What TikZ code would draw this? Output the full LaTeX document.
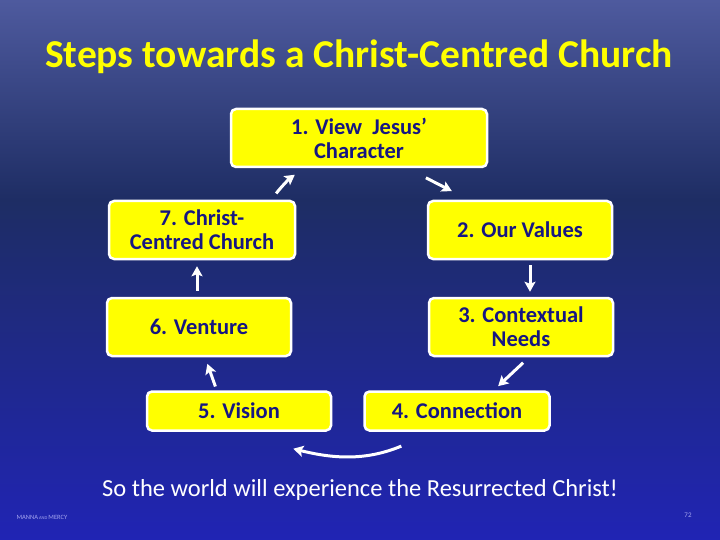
\documentclass[tikz,border=0pt]{standalone}
\usepackage{fontspec}
\setmainfont{Carlito}
\usetikzlibrary{arrows.meta,calc}
\definecolor{slideTop}{RGB}{78,90,158}
\definecolor{slideMid}{RGB}{30,45,100}
\definecolor{slideBottom}{RGB}{32,36,180}
\definecolor{stepYellow}{RGB}{255,255,0}
\definecolor{stepText}{RGB}{22,22,130}
\definecolor{footerBlue}{RGB}{165,165,240}
\newcommand{\stepfont}{\fontsize{22.5}{24}\selectfont\bfseries}
\tikzset{stepbox/.style={draw=white, fill=stepYellow, line width=2.5pt, rounded corners=5pt, text=stepText, align=center, font=\stepfont, inner sep=2pt, minimum height=#1},
	stepbox/.default=58pt,
	steparrow/.style={white, line width=3pt, -{Stealth[length=10pt,width=11pt,inset=2pt]}}}

\begin{document}
\begin{tikzpicture}[x=1pt, y=-1pt]
		\useasboundingbox (0,0) rectangle (720,540);
		\shade[top color=slideTop, bottom color=slideMid] (0,0) rectangle (720,200);
		\shade[top color=slideMid, bottom color=slideBottom] (0,199.5) rectangle (720,540);

		\node[text=stepYellow, font=\fontsize{39.5}{44}\selectfont\bfseries] (title) at (359,57) {Steps towards a Christ-Centred Church};

		\node[stepbox, minimum width=256pt] (n1) at (359,138) {1. View\ \ Jesus'\\Character};
		\node[stepbox, minimum width=186pt] (n7) at (202,230) {7. Christ-\\Centred Church};
		\node[stepbox, minimum width=184pt] (n2) at (520,230) {2. Our Values};
		\node[stepbox, minimum width=184pt] (n6) at (199,327) {6. Venture};
		\node[stepbox, minimum width=184pt] (n3) at (521,327) {3. Contextual\\Needs};
		\node[stepbox=39pt, minimum width=184pt] (n5) at (239,411) {5. Vision};
		\node[stepbox=39pt, minimum width=185pt] (n4) at (457,411) {4. Connection};

		% the cycle
		\draw[steparrow, shorten <=21pt, shorten >=19pt] ($(n1.south east)+(-81,0)$) -- ($(n2.north west)+(42,0)$);
		\draw[steparrow, shorten <=5pt, shorten >=5pt] ([xshift=10pt]n2.south) -- ([xshift=9pt]n3.north);
		\draw[steparrow, shorten <=8pt, shorten >=6pt] ($(n3.south)+(8,0)$) -- ($(n4.north east)+(-57,0)$);
		\draw[steparrow, shorten <=1pt] ($(n4.south west)+(39,14)$) .. controls ($(n4.south west)+(5,28)$) and ($(n5.south east)+(5,28)$) .. ($(n5.south east)+(-39,17)$);
		\draw[steparrow, shorten <=4pt, shorten >=7pt] ($(n5.north west)+(71,0)$) -- ($(n6.south)+(6,0)$);
		\draw[steparrow, shorten <=6pt, shorten >=6pt] ([xshift=-2pt]n6.north) -- ([xshift=-5pt]n7.south);
		\draw[steparrow, shorten <=8pt, shorten >=11pt] ($(n7.north east)+(-25,0)$) to[bend left=8] ($(n1.south west)+(74,0)$);

		\node[white, font=\fontsize{24.5}{28}\selectfont] (motto) at (360,490) {So the world will experience the Resurrected Christ!};
		\node[footerBlue, anchor=west, font=\fontsize{6.5}{8}\selectfont] (footer) at (13,517) {MANNA\,{\fontsize{4.5}{6}\selectfont AND}\,MERCY};
		\node[footerBlue, font=\fontsize{7}{8}\selectfont] (page) at (688,515) {72};
	\end{tikzpicture}
\end{document}
